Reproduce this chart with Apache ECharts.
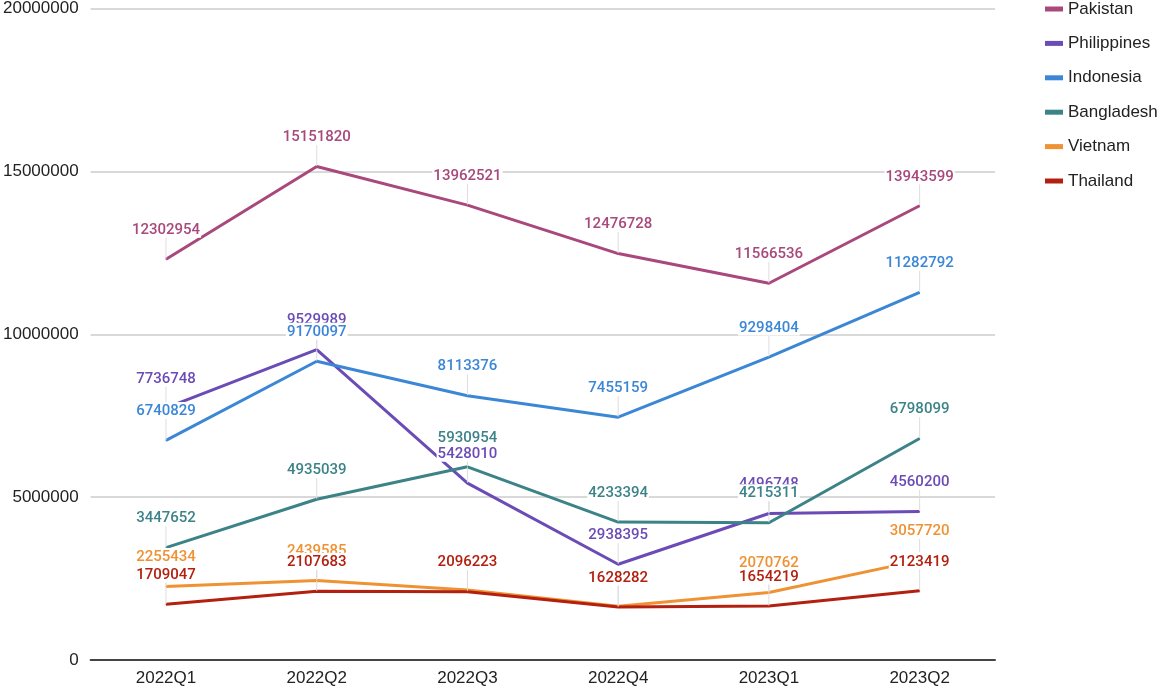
<!DOCTYPE html>
<html>
<head>
<meta charset="utf-8">
<script src="https://cdn.jsdelivr.net/npm/echarts@6/dist/echarts.min.js"></script>
<style>
html,body{margin:0;padding:0;background:#fff;}
#chart{width:1160px;height:687px;}
</style>
</head>
<body>
<div id="chart"></div>
<script>
const categories = ['2022Q1','2022Q2','2022Q3','2022Q4','2023Q1','2023Q2'];
const pakistan    = [12302954, 15151820, 13962521, 12476728, 11566536, 13943599];
const philippines = [7736748, 9529989, 5428010, 2938395, 4496748, 4560200];
const indonesia   = [6740829, 9170097, 8113376, 7455159, 9298404, 11282792];
const bangladesh  = [3447652, 4935039, 5930954, 4233394, 4215311, 6798099];
const vietnam     = [2255434, 2439585, 2150000, 1650000, 2070762, 3057720];
const thailand    = [1709047, 2107683, 2096223, 1628282, 1654219, 2123419];

const seriesDefs = [
  ['Pakistan', pakistan, '#a9487c'],
  ['Philippines', philippines, '#6b4bb5'],
  ['Indonesia', indonesia, '#3b87d6'],
  ['Bangladesh', bangladesh, '#3c8388'],
  ['Vietnam', vietnam, '#ef9233'],
  ['Thailand', thailand, '#b3200f']
];

const chart = echarts.init(document.getElementById('chart'), null, {renderer:'canvas'});
chart.setOption({
  backgroundColor: '#fff',
  animation: false,
  color: seriesDefs.map(s => s[2]),
  grid: {left: 88, right: 165, top: 8, bottom: 27, containLabel: false},
  legend: {
    orient: 'vertical',
    left: 1040,
    top: -5,
    icon: 'rect',
    itemWidth: 18,
    itemHeight: 5,
    itemGap: 16.4,
    textStyle: {fontFamily: 'Liberation Sans, Arial', fontSize: 17, color: '#222', lineHeight: 18},
    data: seriesDefs.map(s => s[0])
  },
  xAxis: {
    type: 'category',
    data: categories,
    boundaryGap: true,
    axisLine: {lineStyle: {color: '#444', width: 2}},
    axisTick: {show: false},
    axisLabel: {fontFamily: 'Liberation Sans, Arial', fontSize: 17, color: '#222', margin: 10}
  },
  yAxis: {
    type: 'value',
    min: 0, max: 20000000, interval: 5000000,
    axisLine: {show: false},
    axisTick: {show: false},
    splitLine: {lineStyle: {color: '#cccccc', width: 1.5}},
    axisLabel: {fontFamily: 'Liberation Sans, Arial', fontSize: 17, color: '#222', margin: 12,
      formatter: v => String(v)}
  },
  series: seriesDefs.map(([name, data, color]) => ({
    name, type: 'line', data,
    symbol: 'circle', symbolSize: 1, showSymbol: true,
    itemStyle: {color},
    lineStyle: {width: 3, color},
    label: {
      show: true, position: 'top', distance: 2,
      color, fontFamily: 'Roboto', fontWeight: 500, fontSize: 15,
      backgroundColor: '#fff', padding: [2, 1, 0, 1]
    },
    labelLayout: {dy: -19},
    labelLine: {show: true, lineStyle: {color: '#dddddd', width: 1}},
    emphasis: {disabled: true}
  }))
});
</script>
</body>
</html>
